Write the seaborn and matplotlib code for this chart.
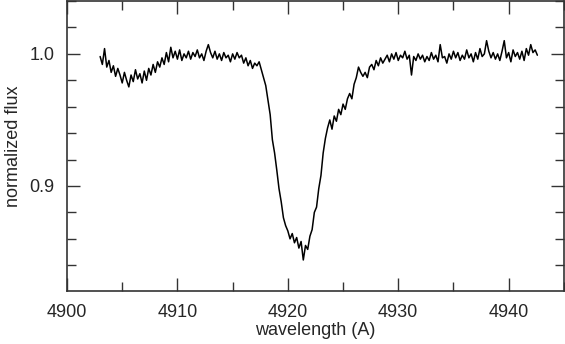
import numpy as np
import pandas as pd
import seaborn as sns
import matplotlib.pyplot as plt
from matplotlib.ticker import MultipleLocator

wl_start = 4903.0
wl_step = 0.2
flux = [
    0.998, 0.992, 1.004, 0.990, 0.995, 0.986, 0.991, 0.983, 0.989, 0.984,
    0.978, 0.986, 0.980, 0.975, 0.984, 0.979, 0.988, 0.981, 0.985, 0.978,
    0.987, 0.980, 0.989, 0.984, 0.992, 0.986, 0.994, 0.990, 0.997, 0.992,
    1.001, 0.994, 1.005, 0.997, 1.002, 0.996, 1.003, 0.995, 1.000, 0.997,
    1.002, 0.996, 1.001, 0.998, 1.003, 0.997, 1.000, 0.995, 1.002, 1.007,
    1.001, 0.997, 1.002, 0.996, 1.000, 0.995, 1.001, 0.997, 0.999, 0.994,
    1.000, 0.996, 1.001, 0.997, 0.999, 0.993, 0.997, 0.991, 0.995, 0.989,
    0.993, 0.991, 0.994, 0.988, 0.982, 0.976, 0.965, 0.954, 0.935, 0.925,
    0.912, 0.898, 0.888, 0.876, 0.870, 0.866, 0.860, 0.864, 0.857, 0.861,
    0.853, 0.858, 0.844, 0.855, 0.852, 0.862, 0.867, 0.880, 0.884, 0.898,
    0.908, 0.925, 0.936, 0.944, 0.950, 0.943, 0.953, 0.949, 0.958, 0.954,
    0.962, 0.958, 0.966, 0.970, 0.966, 0.977, 0.982, 0.990, 0.986, 0.983,
    0.986, 0.982, 0.990, 0.992, 0.988, 0.995, 0.991, 0.997, 0.993, 0.996,
    0.999, 0.994, 1.000, 0.996, 1.001, 0.995, 0.999, 0.997, 1.002, 0.996,
    0.999, 0.984, 0.998, 0.995, 1.000, 0.996, 0.999, 0.994, 0.998, 0.995,
    1.001, 0.996, 0.999, 0.994, 1.007, 0.997, 0.998, 0.993, 1.000, 0.996,
    1.002, 0.997, 1.001, 0.995, 0.999, 0.996, 1.003, 0.997, 1.000, 0.994,
    1.001, 0.996, 1.004, 0.998, 1.000, 1.010, 1.002, 0.997, 1.001, 0.996,
    1.000, 0.995, 1.002, 1.010, 0.997, 1.001, 0.994, 1.003, 0.998, 1.001,
    0.996, 1.002, 0.995, 1.004, 0.999, 1.007, 1.001, 1.003, 0.999,
]

df = pd.DataFrame({'wavelength': wl_start + wl_step * np.arange(len(flux)),
                   'flux': flux})

sns.set_style('ticks')
plt.rcParams['font.family'] = ['Liberation Sans', 'DejaVu Sans']

fig = plt.figure(figsize=(5.65, 3.44), dpi=100)
ax = fig.add_axes([0.1186, 0.154, 0.8794, 0.843])
sns.lineplot(data=df, x='wavelength', y='flux', ax=ax, color='black',
             linewidth=1.1, estimator=None, sort=False)

ax.set_xlim(4900, 4945)
ax.set_ylim(0.8205, 1.040)
ax.xaxis.set_major_locator(MultipleLocator(10))
ax.xaxis.set_minor_locator(MultipleLocator(5))
ax.yaxis.set_major_locator(MultipleLocator(0.1))
ax.yaxis.set_minor_locator(MultipleLocator(0.02))
ax.yaxis.set_major_formatter(plt.FormatStrFormatter('%.1f'))

# ticks inside, on all four sides
ax.tick_params(which='both', direction='in', top=True, right=True,
               color='#333333', width=1)
ax.tick_params(which='major', length=9.5, labelsize=13, pad=9)
ax.tick_params(which='minor', length=6.5)
for s in ax.spines.values():
    s.set_color('#333333')
    s.set_linewidth(1.2)

ax.set_xlabel('wavelength (A)', fontsize=13, labelpad=1)
ax.set_ylabel('normalized flux', fontsize=13, labelpad=5)

fig.savefig('out.png', dpi=100)
